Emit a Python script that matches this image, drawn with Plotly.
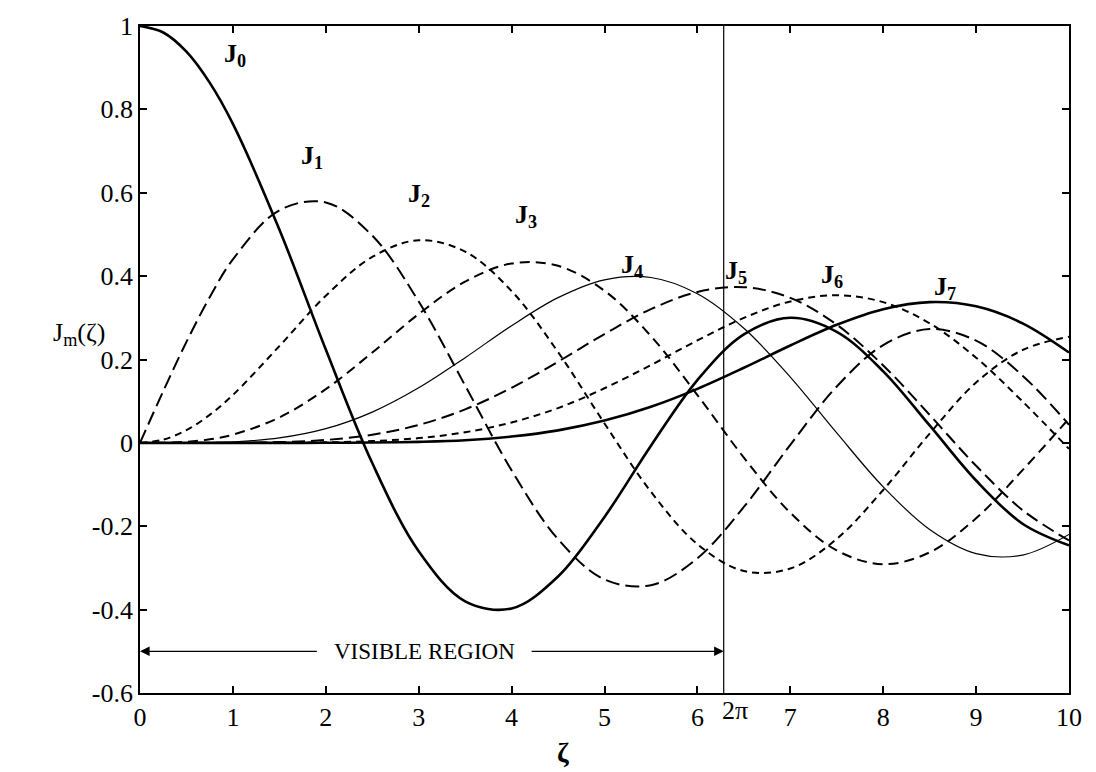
import math
import plotly.graph_objects as go

# Sample points of the Bessel functions J0..J7 on 0 <= zeta <= 10
zeta = [0.0, 0.25, 0.5, 0.75, 1.0, 1.5, 2.0, 2.5, 3.0, 3.5, 4.0, 4.5, 5.0,
        5.5, 6.0, 6.5, 7.0, 7.5, 8.0, 8.5, 9.0, 9.5, 10.0]

J0 = [1.0, 0.9844, 0.9385, 0.8642, 0.7652, 0.5118, 0.2239, -0.0484, -0.2601, -0.3801, -0.3971, -0.3205, -0.1776,
      -0.0068, 0.1506, 0.2601, 0.3001, 0.2663, 0.1717, 0.0419, -0.0903, -0.1939, -0.2459]
J1 = [0.0, 0.1240, 0.2423, 0.3492, 0.4401, 0.5579, 0.5767, 0.4971, 0.3391, 0.1374, -0.0660, -0.2311, -0.3276,
      -0.3414, -0.2767, -0.1538, -0.0047, 0.1352, 0.2346, 0.2731, 0.2453, 0.1613, 0.0435]
J2 = [0.0, 0.0078, 0.0306, 0.0671, 0.1149, 0.2321, 0.3528, 0.4461, 0.4861, 0.4586, 0.3641, 0.2178, 0.0466,
      -0.1173, -0.2429, -0.3074, -0.3014, -0.2303, -0.1130, 0.0223, 0.1448, 0.2228, 0.2546]
J3 = [0.0, 0.0003, 0.0026, 0.0085, 0.0196, 0.0610, 0.1289, 0.2166, 0.3091, 0.3868, 0.4302, 0.4247, 0.3648,
      0.2561, 0.1148, -0.0353, -0.1676, -0.2581, -0.2911, -0.2626, -0.1809, -0.0653, 0.0584]
J4 = [0.0, 0.0000, 0.0002, 0.0008, 0.0025, 0.0118, 0.0340, 0.0738, 0.1320, 0.2044, 0.2811, 0.3484, 0.3912,
      0.3967, 0.3576, 0.2748, 0.1578, 0.0238, -0.1054, -0.2077, -0.2655, -0.2691, -0.2196]
J5 = [0.0, 0.0000, 0.0000, 0.0001, 0.0002, 0.0018, 0.0070, 0.0195, 0.0430, 0.0804, 0.1321, 0.1947, 0.2611,
      0.3209, 0.3621, 0.3736, 0.3479, 0.2835, 0.1858, 0.0671, -0.0550, -0.1613, -0.2341]
J6 = [0.0, 0.0000, 0.0000, 0.0000, 0.0000, 0.0002, 0.0012, 0.0042, 0.0114, 0.0254, 0.0491, 0.0835, 0.1310,
      0.1868, 0.2458, 0.2999, 0.3392, 0.3541, 0.3376, 0.2867, 0.2043, 0.0993, -0.0145]
J7 = [0.0, 0.0000, 0.0000, 0.0000, 0.0000, 0.0000, 0.0002, 0.0008, 0.0025, 0.0063, 0.0152, 0.0300, 0.0534,
      0.0866, 0.1296, 0.1801, 0.2336, 0.2832, 0.3206, 0.3376, 0.3275, 0.2868, 0.2167]

series = [J0, J1, J2, J3, J4, J5, J6, J7]
series_names = ["J0", "J1", "J2", "J3", "J4", "J5", "J6", "J7"]

# curve label anchors (zeta, value)
label_x = [1.02, 1.85, 3.0, 4.15, 5.3, 6.42, 7.45, 8.67]
label_y = [0.93, 0.685, 0.595, 0.545, 0.425, 0.41, 0.40, 0.372]

x_ticks = [0, 1, 2, 3, 4, 5, 6, 7, 8, 9, 10]
y_ticks = [-0.6, -0.4, -0.2, 0, 0.2, 0.4, 0.6, 0.8, 1]
y_tick_text = ["-0.6", "-0.4", "-0.2", "0", "0.2", "0.4", "0.6", "0.8", "1"]

TWO_PI = 2 * math.pi
FONT = "Liberation Serif"

line_styles = [
    dict(width=2.6, dash="solid"),
    dict(width=2.0, dash="14px,6px"),
    dict(width=2.0, dash="7px,5px"),
    dict(width=2.0, dash="10px,6px"),
    dict(width=1.2, dash="solid"),
    dict(width=2.0, dash="13px,6px"),
    dict(width=2.0, dash="7px,5px"),
    dict(width=2.6, dash="solid"),
]

fig = go.Figure()
for name, ys, st in zip(series_names, series, line_styles):
    fig.add_trace(go.Scatter(
        x=zeta, y=ys, mode="lines", name=name,
        line=dict(color="black", shape="spline", smoothing=1.0, **st),
        showlegend=False, hoverinfo="skip",
    ))

# vertical line at 2*pi
fig.add_shape(type="line", x0=TWO_PI, x1=TWO_PI, y0=-0.6, y1=1.0,
              xref="x", yref="y", line=dict(color="black", width=1.2))

annotations = []
for i, (lx, ly) in enumerate(zip(label_x, label_y)):
    annotations.append(dict(
        x=lx, y=ly, xref="x", yref="y", showarrow=False,
        text=f"<b>J<sub>{i}</sub></b>",
        font=dict(family=FONT, size=26, color="black"),
    ))

# visible-region arrows and text
annotations.append(dict(x=3.06, y=-0.5, xref="x", yref="y", showarrow=False,
                        text="VISIBLE REGION",
                        font=dict(family=FONT, size=23, color="black")))
annotations.append(dict(x=0.0, y=-0.5, ax=1.92, ay=-0.5, xref="x", yref="y",
                        axref="x", ayref="y", showarrow=True, text="",
                        arrowhead=2, arrowsize=1.6, arrowwidth=1.2, arrowcolor="black",
                        standoff=0))
annotations.append(dict(x=TWO_PI, y=-0.5, ax=4.2, ay=-0.5, xref="x", yref="y",
                        axref="x", ayref="y", showarrow=True, text="",
                        arrowhead=2, arrowsize=1.6, arrowwidth=1.2, arrowcolor="black",
                        standoff=0))

# 2π tick label
annotations.append(dict(x=6.4, y=-0.6, xref="x", yref="y", yanchor="top", yshift=-1,
                        showarrow=False, text="2π",
                        font=dict(family=FONT, size=26, color="black")))

# axis titles
annotations.append(dict(x=4.55, y=0, xref="x", yref="paper", yanchor="top", yshift=-42,
                        showarrow=False, text="<b>ζ</b>",
                        font=dict(family=FONT, size=28, color="black")))
annotations.append(dict(x=-0.035, y=0.26, xref="paper", yref="y", xanchor="right",
                        showarrow=False, text="J<sub>m</sub>(ζ)",
                        font=dict(family=FONT, size=26, color="black")))

fig.update_layout(
    width=1096, height=772,
    margin=dict(l=140, r=27, t=22, b=79),
    paper_bgcolor="white", plot_bgcolor="white",
    font=dict(family=FONT, size=26, color="black"),
    annotations=annotations,
    xaxis=dict(
        range=[0, 10], tickvals=x_ticks, ticktext=[str(v) for v in x_ticks],
        ticks="inside", ticklen=7, tickwidth=1.5, tickcolor="black",
        showline=True, linecolor="black", linewidth=1.8, mirror="ticks",
        showgrid=False, zeroline=False,
        tickfont=dict(family=FONT, size=26, color="black"),
    ),
    yaxis=dict(
        range=[-0.6, 1.0], tickvals=y_ticks, ticktext=y_tick_text,
        ticks="inside", ticklen=7, tickwidth=1.5, tickcolor="black",
        showline=True, linecolor="black", linewidth=1.8, mirror="ticks",
        showgrid=False, zeroline=False,
        tickfont=dict(family=FONT, size=26, color="black"),
    ),
)

fig.write_html("out.html")
